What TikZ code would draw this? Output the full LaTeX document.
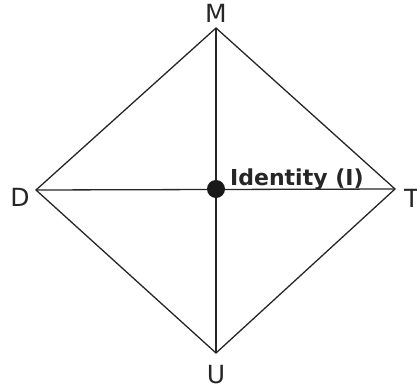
\documentclass[tikz,border=0pt]{standalone}
\usepackage{fontspec}
\setmainfont{DejaVu Sans}
\begin{document}
\begin{tikzpicture}[x=1pt,y=1pt,
  edge/.style={line width=1.3pt, black!85},
  lbl/.style={inner sep=0pt, anchor=base, font=\fontsize{25}{25}\selectfont, text=black!85},
  idlbl/.style={inner sep=0pt, anchor=base west, font=\bfseries\fontsize{22}{22}\selectfont, text=black!85}]
\useasboundingbox (0,0) rectangle (417,389);
\coordinate (M) at (216,361);
\coordinate (D) at (36,199);
\coordinate (T) at (395,200);
\coordinate (U) at (216,36);
\coordinate (C) at (216,200);
\draw[edge] (M) -- (T) -- (U) -- (D) -- cycle;
\draw[edge] (M) -- (U);
\draw[edge] (D) -- (T);
\fill[black!90] (C) circle (9);
\node[lbl] (lM) at (216,366) {M};
\node[lbl] (lD) at (20,183) {D};
\node[lbl, anchor=base west] (lT) at (404,182) {T};
\node[lbl] (lU) at (216,6) {U};
\node[idlbl] (id) at (230,204) {Identity (I)};
\end{tikzpicture}
\end{document}
